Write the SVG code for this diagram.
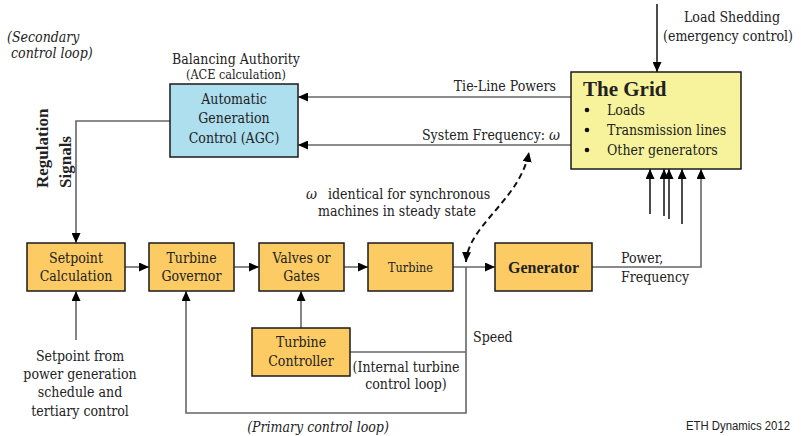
<svg xmlns="http://www.w3.org/2000/svg" width="801" height="436" viewBox="0 0 801 436">
  <defs>
    <marker id="arr" markerUnits="userSpaceOnUse" markerWidth="10" markerHeight="9" refX="10" refY="4.5" orient="auto-start-reverse">
      <path d="M0,0 L10,4.5 L0,9 Z" fill="#000"/>
    </marker>
    <style>
      text { font-family: 'DejaVu Serif Condensed', 'DejaVu Serif', serif; font-stretch: condensed; font-size: 14px; fill: #222; }
      .c { text-anchor: middle; }
      .it { font-style: italic; }
      .b { font-family: 'Liberation Serif', serif; font-stretch: normal; font-weight: bold; font-size: 16px; }
      .box { stroke: #1a1a1a; stroke-width: 1.5; }
      .org { fill: #FCCB64; }
      .blue { fill: #AEDFEF; }
      .yel { fill: #F7F39C; }
      .wire { fill: none; stroke: #666; stroke-width: 1.6; }
      .blk { fill: none; stroke: #111; stroke-width: 1.5; }
    </style>
  </defs>
  <rect width="801" height="436" fill="#fff"/>

  <!-- connectors -->
  <g id="connectors">
    <!-- load shedding into grid -->
    <line class="blk" x1="657" y1="4" x2="657" y2="72" marker-end="url(#arr)"/>
    <!-- grid to AGC -->
    <line class="wire" x1="571" y1="97" x2="298" y2="97" marker-end="url(#arr)"/>
    <line class="wire" x1="571" y1="145" x2="298" y2="145" marker-end="url(#arr)"/>
    <!-- regulation signals -->
    <polyline class="wire" points="170,121 76,121 76,243" marker-end="url(#arr)"/>
    <!-- forward path -->
    <line class="wire" x1="125" y1="267" x2="149" y2="267" marker-end="url(#arr)"/>
    <line class="wire" x1="234" y1="267" x2="259" y2="267" marker-end="url(#arr)"/>
    <line class="wire" x1="344" y1="267" x2="368" y2="267" marker-end="url(#arr)"/>
    <line class="wire" x1="453" y1="267" x2="495" y2="267" marker-end="url(#arr)"/>
    <!-- generator output to grid -->
    <polyline class="wire" points="592,267 701,267 701,169" marker-end="url(#arr)"/>
    <!-- other injections into grid -->
    <line class="blk" x1="650" y1="214" x2="650" y2="169" marker-end="url(#arr)"/>
    <line class="blk" x1="664" y1="216" x2="664" y2="169" marker-end="url(#arr)"/>
    <line class="blk" x1="669" y1="219" x2="669" y2="169" marker-end="url(#arr)"/>
    <line class="blk" x1="682" y1="224" x2="682" y2="169" marker-end="url(#arr)"/>
    <!-- setpoint input -->
    <line class="wire" x1="76" y1="340" x2="76" y2="291" marker-end="url(#arr)"/>
    <!-- speed feedback: primary loop -->
    <polyline class="wire" points="466,267 466,413 186,413 186,291" marker-end="url(#arr)"/>
    <!-- internal turbine loop -->
    <line class="wire" x1="350" y1="352" x2="466" y2="352"/>
    <line class="wire" x1="301" y1="328" x2="301" y2="291" marker-end="url(#arr)"/>
    <!-- omega identity -->
    <path d="M466,262 C468,225 520,200 529,152" fill="none" stroke="#111" stroke-width="2" stroke-dasharray="6,4" marker-start="url(#arr)" marker-end="url(#arr)"/>
  </g>

  <!-- labels -->
  <text class="it" x="7" y="42">(Secondary</text>
  <text class="it" x="11" y="58">control loop)</text>
  <text class="c" x="236" y="64">Balancing Authority</text>
  <text class="c" x="236" y="79" style="font-size:12.5px">(ACE calculation)</text>
  <text class="b" transform="translate(47.5,188) rotate(-90)" style="font-size:17px">Regulation</text>
  <text class="b" transform="translate(70.5,188) rotate(-90)" style="font-size:17px">Signals</text>
  <text x="732" y="22" class="c">Load Shedding</text>
  <text x="728" y="41" class="c">(emergency control)</text>
  <text x="556" y="91" text-anchor="end">Tie-Line Powers</text>
  <text x="545" y="140" text-anchor="end">System Frequency:</text>
  <text x="549" y="140" class="it" style="font-family:'DejaVu Serif',serif;font-size:15px">ω</text>
  <text x="306" y="199" class="it" style="font-family:'DejaVu Serif',serif;font-size:15px">ω</text>
  <text x="328" y="199">identical for synchronous</text>
  <text x="397" y="216" class="c">machines in steady state</text>
  <text x="621" y="263">Power,</text>
  <text x="621" y="282">Frequency</text>
  <text x="473" y="342">Speed</text>
  <text x="406" y="372" class="c">(Internal turbine</text>
  <text x="406" y="389" class="c">control loop)</text>
  <text x="318" y="432" class="c it">(Primary control loop)</text>
  <text x="80" y="361" class="c">Setpoint from</text>
  <text x="80" y="379" class="c">power generation</text>
  <text x="80" y="397" class="c">schedule and</text>
  <text x="80" y="416" class="c">tertiary control</text>
  <text x="686" y="430" textLength="104" lengthAdjust="spacingAndGlyphs" style="font-family:'Liberation Sans Narrow','Liberation Sans',sans-serif;font-stretch:normal;font-size:12.5px">ETH Dynamics 2012</text>

  <!-- nodes -->
  <g id="agc">
    <rect class="box blue" x="170" y="84" width="128" height="73"/>
    <text class="c" x="234" y="104">Automatic</text>
    <text class="c" x="234" y="123">Generation</text>
    <text class="c" x="234" y="143">Control (AGC)</text>
  </g>
  <g id="grid">
    <rect class="box yel" x="571" y="72" width="170" height="97"/>
    <text class="b" x="583" y="96" style="font-size:21px">The Grid</text>
    <circle cx="587" cy="110" r="2.3" fill="#111"/>
    <circle cx="587" cy="130" r="2.3" fill="#111"/>
    <circle cx="587" cy="150" r="2.3" fill="#111"/>
    <text x="607" y="115">Loads</text>
    <text x="607" y="135">Transmission lines</text>
    <text x="607" y="155">Other generators</text>
  </g>
  <g id="setpoint">
    <rect class="box org" x="27" y="243" width="98" height="48"/>
    <text class="c" x="76" y="263">Setpoint</text>
    <text class="c" x="76" y="281">Calculation</text>
  </g>
  <g id="governor">
    <rect class="box org" x="149" y="243" width="85" height="48"/>
    <text class="c" x="191.5" y="263">Turbine</text>
    <text class="c" x="191.5" y="281">Governor</text>
  </g>
  <g id="valves">
    <rect class="box org" x="259" y="243" width="85" height="48"/>
    <text class="c" x="301.5" y="263">Valves or</text>
    <text class="c" x="301.5" y="281">Gates</text>
  </g>
  <g id="turbine">
    <rect class="box org" x="368" y="243" width="85" height="48"/>
    <text class="c" x="410.5" y="272" style="font-size:12.5px">Turbine</text>
  </g>
  <g id="generator">
    <rect class="box org" x="495" y="243" width="97" height="48"/>
    <text class="c b" x="543.5" y="273">Generator</text>
  </g>
  <g id="controller">
    <rect class="box org" x="252" y="328" width="98" height="48"/>
    <text class="c" x="301" y="347">Turbine</text>
    <text class="c" x="301" y="366">Controller</text>
  </g>
</svg>
